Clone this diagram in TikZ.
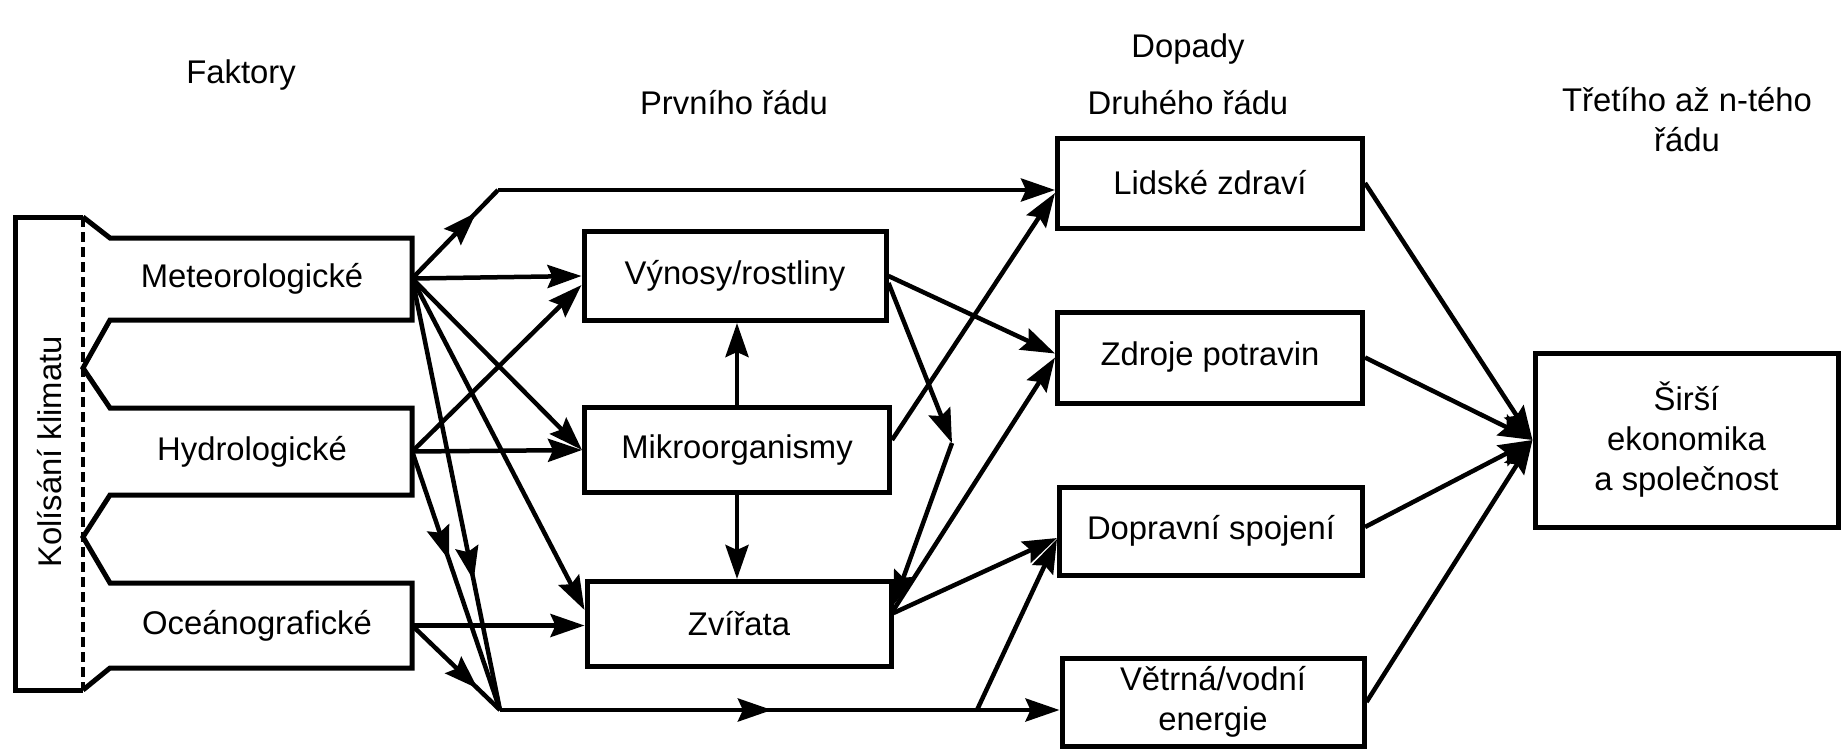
\documentclass[tikz,border=0pt]{standalone}
\usepackage{fontspec}
\setmainfont{Liberation Sans}
\usetikzlibrary{arrows.meta,decorations.markings}
\begin{document}
\begin{tikzpicture}[x=1pt,y=-1pt,
  every node/.style={font=\fontsize{32.8}{40}\selectfont},
  tip/.tip={Stealth[length=34pt,width=23pt,inset=5pt]},
  box/.style={draw, line width=5pt, inner sep=0pt, align=center},
  ghost/.style={inner sep=0pt, align=center},
  conn/.style={line width=4.5pt, -tip},
  plain/.style={line width=4.5pt},
  midarr/.style={postaction={decorate}, decoration={markings, mark=at position #1 with {\arrow{tip}}}}
]
\useasboundingbox (0,0) rectangle (1841,750);

% headers
\node (hfak) at (241,75) {Faktory};
\node (hdop) at (1188,49) {Dopady};
\node (hprv) at (734,103) {Prvního řádu};
\node (hdru) at (1188,103) {Druhého řádu};
\node[align=center] (htre) at (1687,120) {Třetího až n-tého\\řádu};

% left factor shape
\draw[line width=5pt, line join=miter] (83,217) -- (110,238) -- (412,238) -- (412,320) -- (110,320) -- (83,368) -- (110,408) -- (412,408) -- (412,495) -- (110,495) -- (83,537) -- (110,583) -- (412,583) -- (412,668) -- (110,668) -- (83,690);
\draw[line width=5pt] (83,217) -- (15,217) -- (15,690) -- (83,690);
\draw[line width=4pt, dash pattern=on 10pt off 5pt] (83,217) -- (83,690);
\node[rotate=90] (kol) at (50,452) {Kolísání klimatu};

\node[ghost, minimum width=320pt, minimum height=83pt] (met) at (252,278.5) {Meteorologické};
\node[ghost, minimum width=320pt, minimum height=87pt] (hyd) at (252,451.5) {Hydrologické};
\node[ghost, minimum width=310pt, minimum height=85pt] (oce) at (257,625.5) {Oceánografické};

% first order
\node[box, minimum width=302pt, minimum height=89pt] (vyn) at (735,276) {Výnosy/rostliny};
\node[box, minimum width=305pt, minimum height=85pt] (mik) at (737,450) {Mikroorganismy};
\node[box, minimum width=304pt, minimum height=85pt] (zvi) at (739,624) {Zvířata};

% second order
\node[box, minimum width=305pt, minimum height=90pt] (lid) at (1210,183) {Lidské zdraví};
\node[box, minimum width=305pt, minimum height=91pt] (zdr) at (1210,357.5) {Zdroje potravin};
\node[box, minimum width=303pt, minimum height=88pt] (dop) at (1211,531) {Dopravní spojení};
\node[box, minimum width=302pt, minimum height=88pt] (vet) at (1213,702) {Větrná/vodní\\energie};

% third order
\node[box, minimum width=303pt, minimum height=174pt] (sir) at (1686.5,440) {Širší\\ekonomika\\a společnost};

% junction coordinates
\coordinate (tl) at (498,190);
\coordinate (J) at (500,710);
\coordinate (B) at (977,710);
\coordinate (K) at (952,443);

% from Meteorologicke
\draw[plain, midarr=0.75] (met.east) -- (tl);
\draw[conn] (tl) -- (tl -| lid.west);
\draw[conn] (met.east) -- (vyn.west);
\draw[conn] (met.east) -- (mik.west);
\draw[conn] (met.east) -- ([yshift=14pt]zvi.west);
\draw[plain, midarr=0.7] (met.east) -- (J);

% from Hydrologicke
\draw[conn] (hyd.east) -- ([yshift=-9pt]vyn.west);
\draw[conn] (hyd.east) -- (mik.west);
\draw[plain, midarr=0.42] (hyd.east) -- (J);

% from Oceanograficke
\draw[conn] (oce.east) -- (zvi.west |- oce.east);
\draw[plain, midarr=0.75] (oce.east) -- (J);

% bottom line
\draw[plain, midarr=0.57] (J) -- (B);
\draw[conn] (B) -- (B -| vet.west);
\draw[conn] (B) -- ([yshift=-8pt]dop.west);

% among first order
\draw[conn] (mik.north) -- (mik.north |- vyn.south);
\draw[conn] (mik.south) -- (mik.south |- zvi.north);

% first to second order
\draw[conn] (vyn.east) -- ([yshift=4pt]zdr.west);
\draw[conn] ([yshift=-7pt]vyn.east) -- (K);
\draw[conn] (K) -- ([yshift=19pt]zvi.east);
\draw[conn] ([yshift=10pt]mik.east) -- ([yshift=-10pt]lid.west);
\draw[conn] ([yshift=14pt]zvi.east) -- (zdr.west);
\draw[conn] ([yshift=11pt]zvi.east) -- ([yshift=-7pt]dop.west);

% second to third order
\draw[conn] (lid.east) -- (sir.west);
\draw[conn] (zdr.east) -- (sir.west);
\draw[conn] ([yshift=4pt]dop.east) -- (sir.west);
\draw[conn] (vet.east) -- (sir.west);
\end{tikzpicture}
\end{document}
